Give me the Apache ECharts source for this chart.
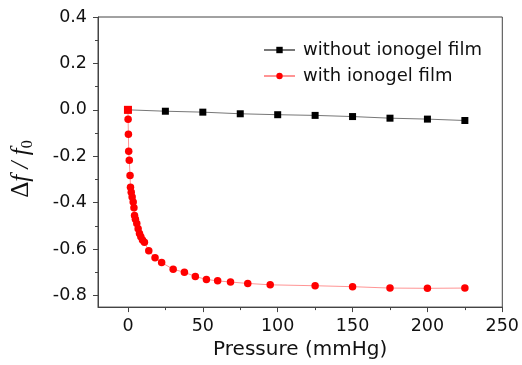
<!DOCTYPE html>
<html>
<head>
<meta charset="utf-8">
<script src="https://cdn.jsdelivr.net/npm/echarts@6/dist/echarts.min.js"></script>
<style>
  html, body { margin: 0; padding: 0; background: #fff; }
  #chart { width: 522px; height: 365px; }
</style>
</head>
<body>
<div id="chart"></div>
<script>
// pressure (mmHg) and relative frequency shift
const pressureWithout = [0, 25, 50, 75, 100, 125, 150, 175, 200, 225];
const shiftWithout = [0, -0.006, -0.01, -0.017, -0.021, -0.024, -0.029, -0.036, -0.04, -0.046];

const pressureWith = [
  0, 0.1, 0.3, 0.5, 0.9, 1.4, 1.7, 2.2, 2.8, 3.5, 4.0, 4.4, 5.0, 5.9, 6.8, 7.7,
  8.6, 9.7, 11.0, 13.9, 18.1, 22.5, 30.2, 37.7, 45.0, 52.4, 59.9, 68.5, 80, 95,
  125, 150, 175, 200, 225,
];
const shiftWith = [
  0, -0.041, -0.105, -0.178, -0.217, -0.283, -0.334, -0.355, -0.376, -0.397, -0.422, -0.455, -0.472, -0.49, -0.512, -0.533,
  -0.547, -0.561, -0.571, -0.607, -0.637, -0.658, -0.687, -0.7, -0.718, -0.731, -0.737, -0.742, -0.748, -0.754,
  -0.758, -0.762, -0.768, -0.769, -0.768,
];

const xTicks = [0, 50, 100, 150, 200, 250];
const xMinor = [25, 75, 125, 175, 225];
const yTicks = [-0.8, -0.6, -0.4, -0.2, 0, 0.2, 0.4];
const yMinor = [-0.7, -0.5, -0.3, -0.1, 0.1, 0.3];

const seriesNames = ['without ionogel film', 'with ionogel film'];

const axisColor = '#444';
const font = 'DejaVu Sans';
const serif = 'Liberation Serif';

const withoutData = pressureWithout.map((x, i) => [x, shiftWithout[i]]);
// first red point is drawn as a square in the original
const withData = pressureWith.map((x, i) =>
  i === 0 ? { value: [x, shiftWith[i]], symbol: 'rect', symbolSize: 8 } : [x, shiftWith[i]]
);

const option = {
  animation: false,
  backgroundColor: '#fff',
  grid: { left: 98, right: 16, top: 17, bottom: 56, containLabel: false, show: true, borderColor: axisColor, borderWidth: 1 },
  legend: {
    orient: 'vertical',
    left: 258,
    top: 36,
    itemWidth: 31,
    itemHeight: 8,
    itemGap: 8,
    data: seriesNames,
    textStyle: { fontFamily: font, fontSize: 18, color: '#111', padding: [0, 0, 0, 3] },
  },
  xAxis: [
    {
      type: 'value',
      min: -20,
      max: 250,
      name: 'Pressure (mmHg)',
      nameLocation: 'middle',
      nameGap: 29,
      nameTextStyle: { fontFamily: font, fontSize: 20, color: '#111' },
      axisLine: { show: true, onZero: false, lineStyle: { color: axisColor, width: 1 } },
      axisTick: { show: true, inside: false, length: 5, customValues: xTicks, lineStyle: { color: axisColor } },
      axisLabel: { customValues: xTicks, margin: 10, fontFamily: font, fontSize: 17.5, color: '#111', showMaxLabel: true },
      splitLine: { show: false },
    },
    {
      type: 'value',
      min: -20,
      max: 250,
      position: 'bottom',
      axisLine: { show: false, onZero: false },
      axisTick: { show: true, inside: false, length: 3, customValues: xMinor, lineStyle: { color: axisColor } },
      axisLabel: { show: false },
      splitLine: { show: false },
    },
  ],
  yAxis: [
    {
      type: 'value',
      min: -0.85,
      max: 0.4,
      name: '{d|Δ}{i|f / f}{s|0}',
      nameLocation: 'middle',
      nameGap: 62,
      nameTextStyle: {
        padding: [0, 14, 0, 0],
        rich: {
          d: { fontFamily: serif, fontSize: 25, color: '#111' },
          i: { fontFamily: serif, fontStyle: 'italic', fontSize: 25, color: '#111' },
          s: { fontFamily: serif, fontSize: 16, color: '#111', padding: [14, 0, 0, 0] },
        },
      },
      axisLine: { show: true, onZero: false, lineStyle: { color: axisColor, width: 1 } },
      axisTick: { show: true, inside: false, length: 5, customValues: yTicks, lineStyle: { color: axisColor } },
      axisLabel: {
        customValues: yTicks,
        margin: 11,
        fontFamily: font,
        fontSize: 17.5,
        color: '#111',
        formatter: (v) => v.toFixed(1),
      },
      splitLine: { show: false },
    },
    {
      type: 'value',
      min: -0.85,
      max: 0.4,
      position: 'left',
      axisLine: { show: false, onZero: false },
      axisTick: { show: true, inside: false, length: 3, customValues: yMinor, lineStyle: { color: axisColor } },
      axisLabel: { show: false },
      splitLine: { show: false },
    },
  ],
  series: [
    {
      name: seriesNames[0],
      type: 'line',
      data: withoutData,
      symbol: 'rect',
      symbolSize: 7,
      itemStyle: { color: '#000' },
      lineStyle: { color: '#777', width: 1 },
      z: 2,
    },
    {
      name: seriesNames[1],
      type: 'line',
      data: withData,
      symbol: 'circle',
      symbolSize: 7.5,
      itemStyle: { color: '#ff0000' },
      lineStyle: { color: 'rgba(255,60,60,0.55)', width: 1 },
      z: 3,
    },
  ],
};

const myChart = echarts.init(document.getElementById('chart'), null, { renderer: 'canvas' });
myChart.setOption(option);
</script>
</body>
</html>
